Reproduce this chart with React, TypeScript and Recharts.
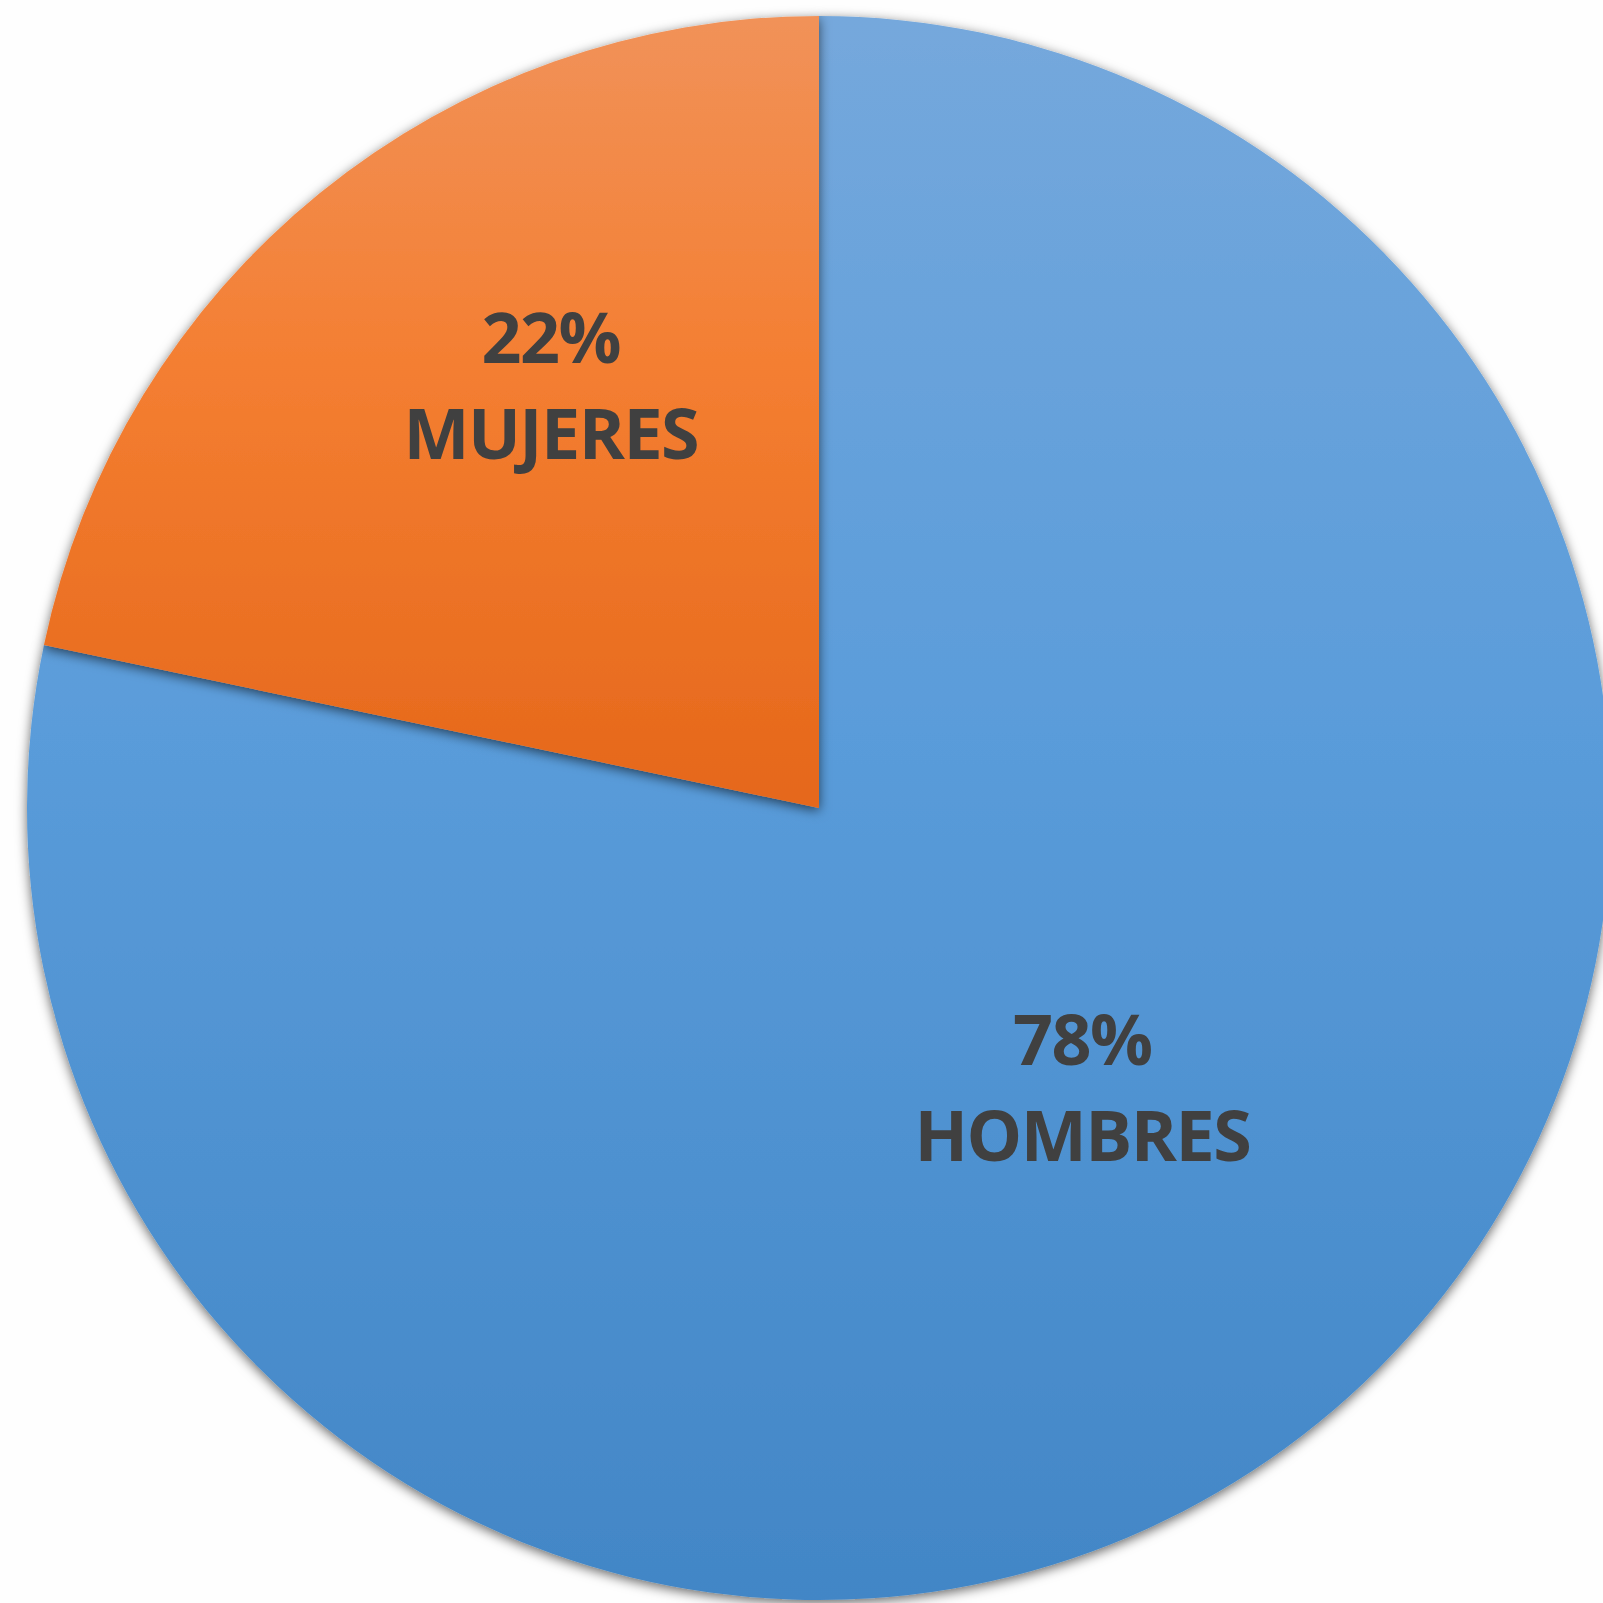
import { PieChart, Pie, Cell } from 'recharts'

const categories = ['HOMBRES', 'MUJERES']
const shares = [78.3, 21.7]

const sliceColors: Record<string, [string, string, string]> = {
  HOMBRES: ['#75A8DC', '#5A9CDA', '#4286C6'],
  MUJERES: ['#F19259', '#F47E31', '#E5671A'],
}

// where Excel dropped each label (fraction of radius, angle in degrees)
const labelSpot: Record<string, { r: number; angle: number }> = {
  HOMBRES: { r: 0.484, angle: -46.6 },
  MUJERES: { r: 0.632, angle: 122.4 },
}

const data = categories.map((name, i) => ({ name, value: shares[i] }))

const RADIAN = Math.PI / 180

function renderLabel(props: any) {
  const { cx, cy, outerRadius, payload, percent } = props
  const spot = labelSpot[payload.name]
  const r = outerRadius * spot.r
  const x = cx + r * Math.cos(spot.angle * RADIAN)
  const y = cy - r * Math.sin(spot.angle * RADIAN)
  return (
    <text
      x={x}
      textAnchor="middle"
      fill="#404040"
      fontFamily="'Open Sans', sans-serif"
      fontWeight={700}
      fontSize={70}
      letterSpacing={-1.5}
    >
      <tspan x={x} y={y - 22}>{`${Math.round(percent * 100)}%`}</tspan>
      <tspan x={x} y={y + 74}>{payload.name}</tspan>
    </text>
  )
}

export default function App() {
  return (
    <div style={{ position: 'absolute', top: 0, left: 0, width: 1603, height: 1603, background: '#FEFEFE' }}>
      <PieChart width={1603} height={1603} margin={{ top: 0, right: 0, bottom: 0, left: 0 }}>
        <defs>
          {categories.map((c) => (
            <linearGradient key={c} id={`grad-${c}`} x1="0" y1="0" x2="0" y2="1">
              <stop offset="0%" stopColor={sliceColors[c][0]} />
              <stop offset="45%" stopColor={sliceColors[c][1]} />
              <stop offset="100%" stopColor={sliceColors[c][2]} />
            </linearGradient>
          ))}
          <filter id="pieShadow" x="-10%" y="-10%" width="120%" height="120%">
            <feDropShadow dx="0" dy="3" stdDeviation="6" floodColor="#000" floodOpacity="0.6" />
          </filter>
        </defs>
        <Pie
          data={data}
          dataKey="value"
          nameKey="name"
          cx={819}
          cy={808}
          outerRadius={792}
          startAngle={90}
          endAngle={-270}
          stroke="none"
          labelLine={false}
          label={renderLabel}
          isAnimationActive={false}
        >
          {data.map((d) => (
            <Cell key={d.name} fill={`url(#grad-${d.name})`} filter="url(#pieShadow)" />
          ))}
        </Pie>
      </PieChart>
    </div>
  )
}
